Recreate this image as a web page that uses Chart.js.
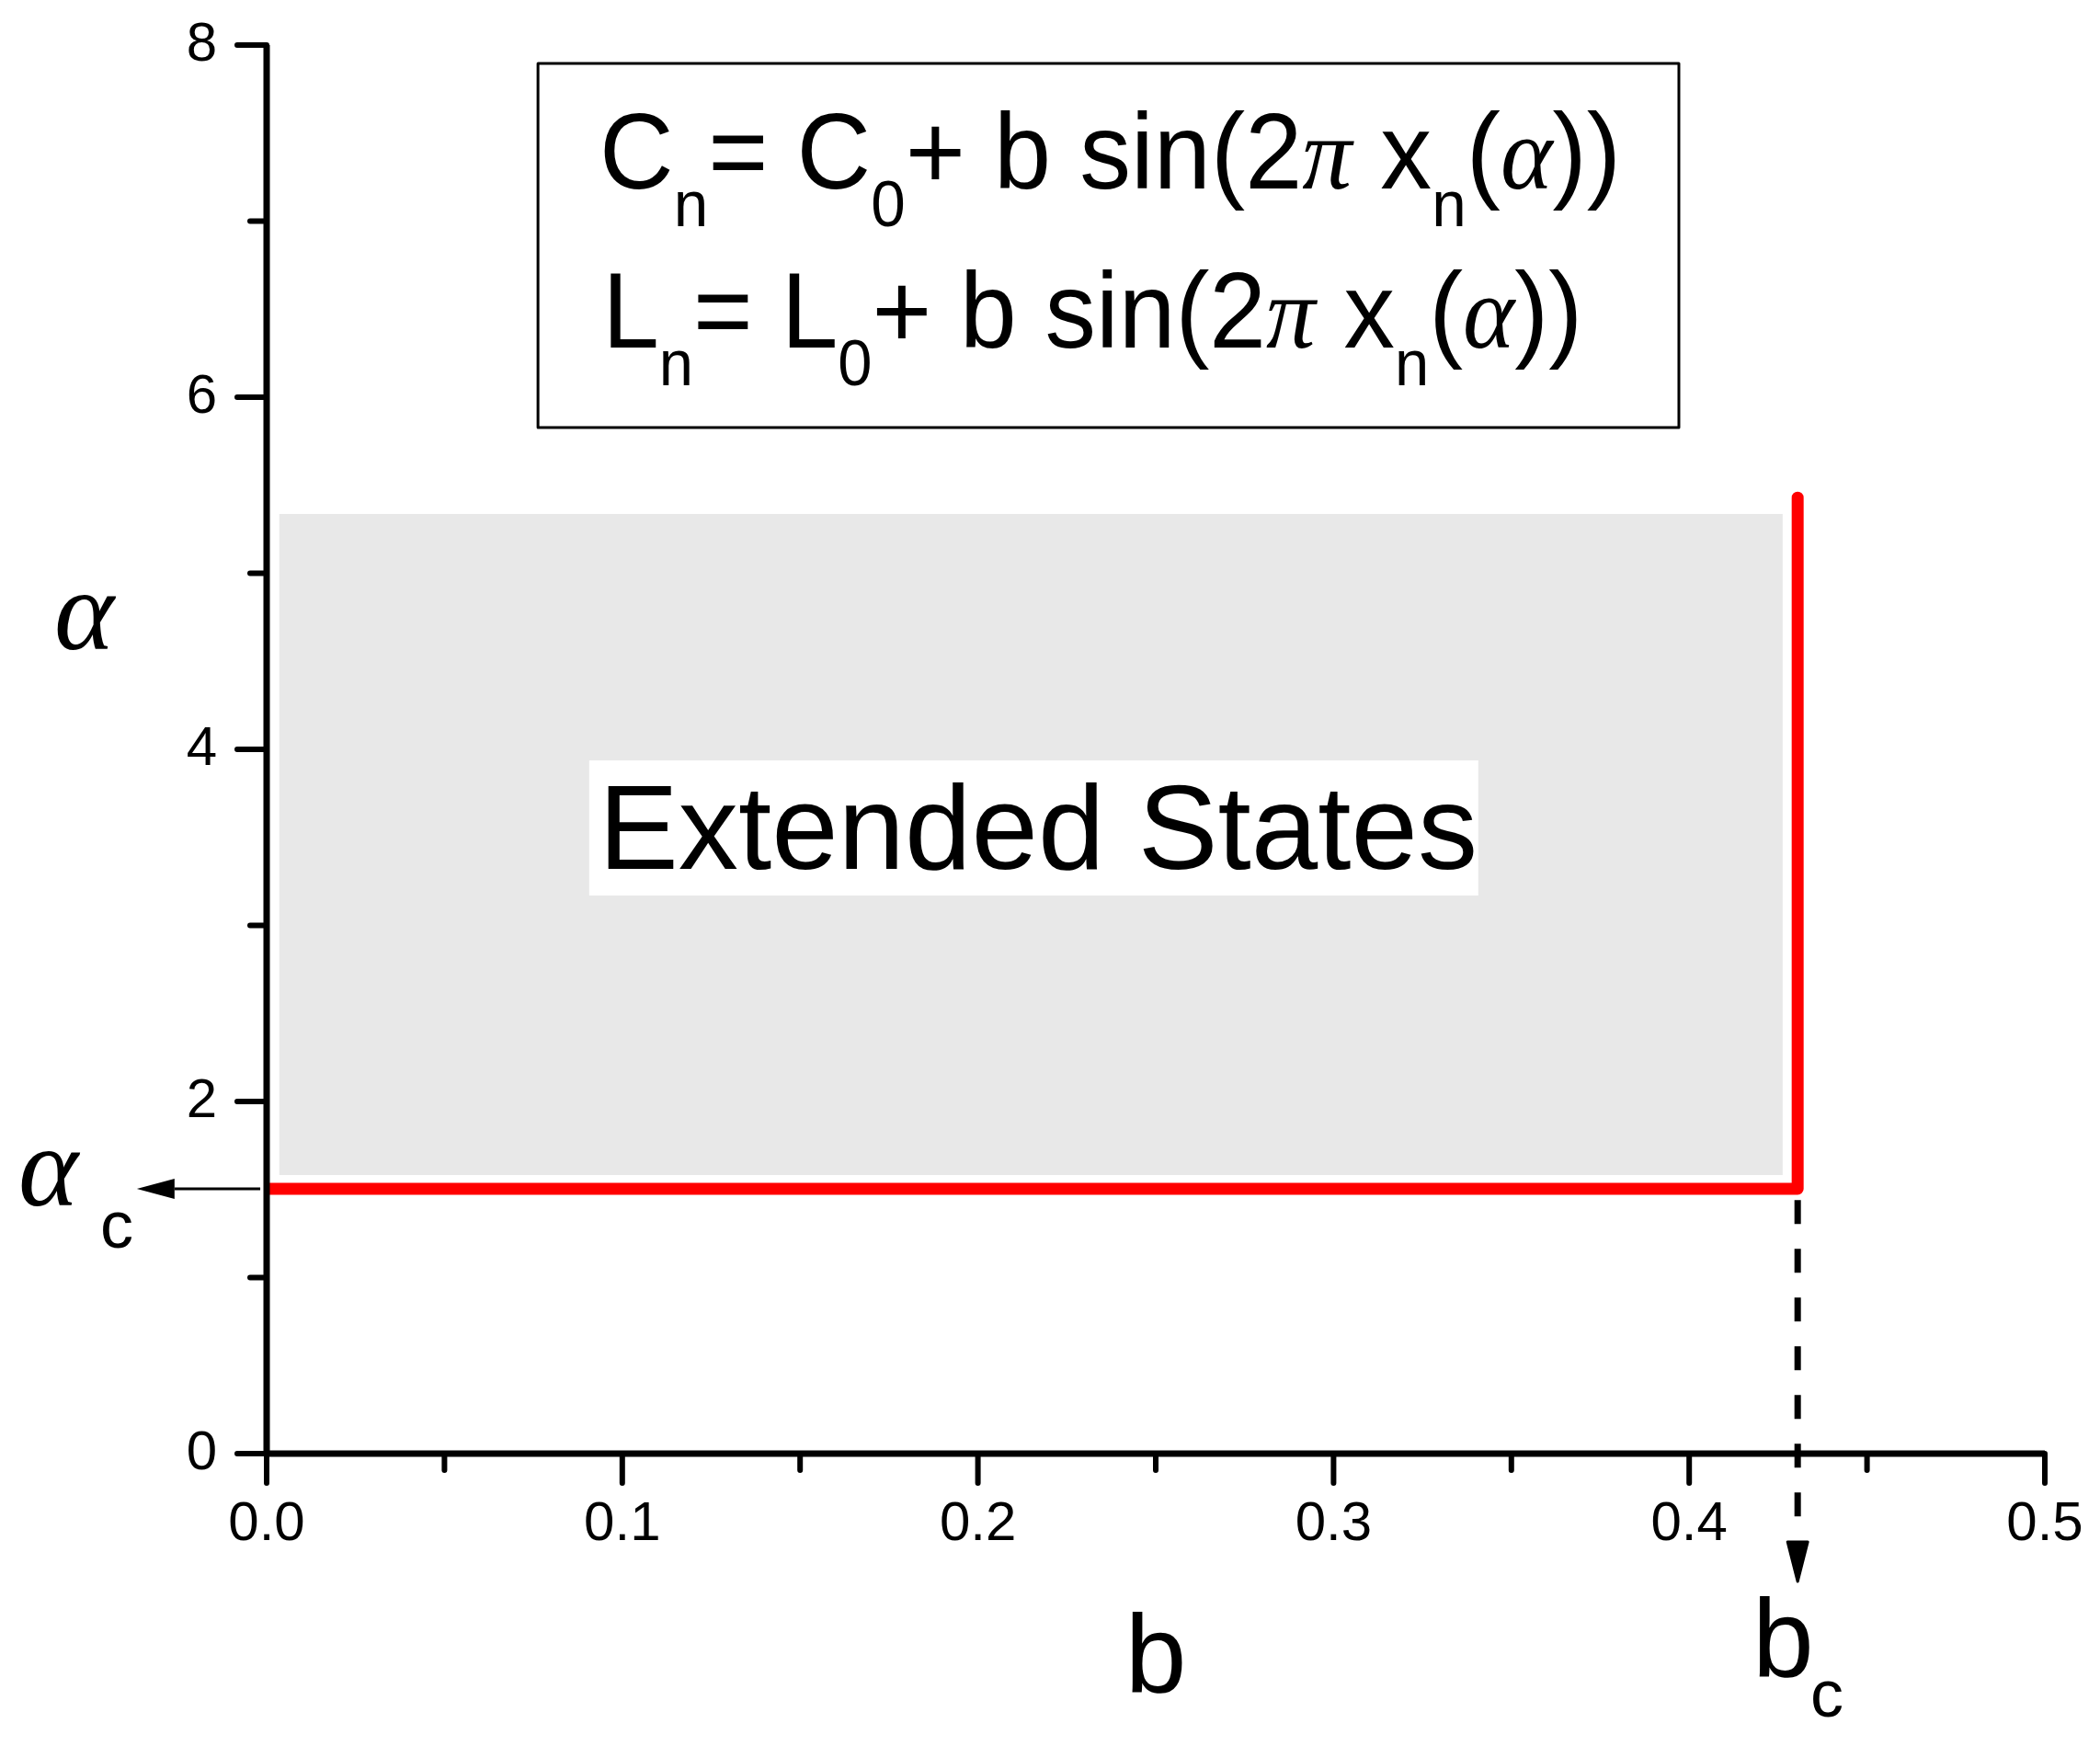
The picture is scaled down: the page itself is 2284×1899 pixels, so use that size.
<!DOCTYPE html>
<html>
<head>
<meta charset="utf-8">
<title>Extended states phase diagram</title>
<script src="https://cdn.jsdelivr.net/npm/chart.js@4.4.0/dist/chart.umd.min.js"></script>
<style>
    html, body { margin: 0; padding: 0; background: #ffffff; }
    #wrap { width: 2284px; height: 1899px; }
</style>
</head>
<body>
<div id="wrap"><canvas id="phaseChart" width="2284" height="1899"></canvas></div>
<script>
// Axis ticks
const xMajorTicks = [0, 0.1, 0.2, 0.3, 0.4, 0.5];
const xMinorTicks = [0.05, 0.15, 0.25, 0.35, 0.45];
const yMajorTicks = [0, 2, 4, 6, 8];
const yMinorTicks = [1, 3, 5, 7];

// Critical values
const bCritical = 0.4305;
const alphaCritical = 1.504;

// Red phase boundary (b, alpha)
const boundaryB = [0, 0.4305, 0.4305];
const boundaryAlpha = [1.504, 1.504, 5.43];

// Shaded "extended states" region
const regionB = [0.0035, 0.4263];
const regionBottom = [1.582, 1.582];
const regionTop = [5.337, 5.337];

// Dashed drop line from the corner down to b_c
const dropB = [0.4305, 0.4305];
const dropAlpha = [1.44, -0.366];

const COLORS = {
    axis: '#000000',
    boundary: '#ff0000',
    region: '#e8e8e8',
    text: '#000000'
};

const SANS = 'Arial, "Liberation Sans", sans-serif';
const SERIF = '"Liberation Serif", "DejaVu Serif", serif';

const toPoints = (xs, ys) => xs.map((x, i) => ({ x: x, y: ys[i] }));

// draws a run of text pieces (main / subscript / greek) squeezed to a given width
function drawRich(ctx, parts, x, y, width) {
    let total = 0;
    parts.forEach(p => {
        ctx.font = p.font;
        p.w = ctx.measureText(p.t).width;
        total += p.w;
    });
    ctx.save();
    ctx.translate(x, y);
    ctx.scale(width ? width / total : 1, 1);
    let cx = 0;
    parts.forEach(p => {
        ctx.font = p.font;
        ctx.fillText(p.t, cx, p.dy || 0);
        cx += p.w;
    });
    ctx.restore();
}

const MAIN = '116px ' + SANS;
const SUB = '70px ' + SANS;
const GREEK = 'italic 112px ' + SERIF;

const line1 = [
    { t: 'C', font: MAIN }, { t: 'n', font: SUB, dy: 41 },
    { t: '= C', font: MAIN }, { t: '0', font: SUB, dy: 41 },
    { t: '+ b sin(2', font: MAIN }, { t: '\u03C0', font: GREEK },
    { t: ' x', font: MAIN }, { t: 'n', font: SUB, dy: 41 },
    { t: '(', font: MAIN }, { t: '\u03B1', font: GREEK }, { t: '))', font: MAIN }
];
const line2 = [
    { t: 'L', font: MAIN }, { t: 'n', font: SUB, dy: 41 },
    { t: '= L', font: MAIN }, { t: '0', font: SUB, dy: 41 },
    { t: '+ b sin(2', font: MAIN }, { t: '\u03C0', font: GREEK },
    { t: ' x', font: MAIN }, { t: 'n', font: SUB, dy: 41 },
    { t: '(', font: MAIN }, { t: '\u03B1', font: GREEK }, { t: '))', font: MAIN }
];

const annotationPlugin = {
    id: 'phaseAnnotations',
    afterDatasetsDraw(chart) {
        const ctx = chart.ctx;
        const sx = chart.scales.x;
        const sy = chart.scales.y;
        const X = v => sx.getPixelForValue(v);
        const Y = v => sy.getPixelForValue(v);
        const x0 = X(0), y0 = Y(0);

        ctx.save();
        ctx.strokeStyle = COLORS.axis;
        ctx.fillStyle = COLORS.text;

        // axis lines
        ctx.lineWidth = 7;
        ctx.lineCap = 'butt';
        ctx.beginPath();
        ctx.moveTo(x0, Y(8));
        ctx.lineTo(x0, y0);
        ctx.moveTo(x0, y0);
        ctx.lineTo(X(0.5), y0);
        ctx.stroke();

        // tick marks (outward)
        ctx.lineWidth = 6;
        ctx.lineCap = 'round';
        ctx.beginPath();
        yMajorTicks.forEach(v => { ctx.moveTo(x0 - 32, Y(v)); ctx.lineTo(x0, Y(v)); });
        yMinorTicks.forEach(v => { ctx.moveTo(x0 - 18, Y(v)); ctx.lineTo(x0, Y(v)); });
        xMajorTicks.forEach(v => { ctx.moveTo(X(v), y0); ctx.lineTo(X(v), y0 + 32); });
        xMinorTicks.forEach(v => { ctx.moveTo(X(v), y0); ctx.lineTo(X(v), y0 + 18); });
        ctx.stroke();

        // arrow from the axis to alpha_c
        const ya = Y(alphaCritical);
        ctx.lineWidth = 3;
        ctx.lineCap = 'butt';
        ctx.beginPath();
        ctx.moveTo(X(-0.0018), ya);
        ctx.lineTo(X(-0.0259), ya);
        ctx.stroke();
        ctx.beginPath();
        ctx.moveTo(X(-0.0365), ya);
        ctx.lineTo(X(-0.0259), ya - 11);
        ctx.lineTo(X(-0.0259), ya + 11);
        ctx.closePath();
        ctx.fill();

        // arrow head of the dashed drop line
        const xb = X(bCritical);
        ctx.lineJoin = 'round';
        ctx.lineWidth = 3;
        ctx.beginPath();
        ctx.moveTo(xb - 11, Y(-0.501));
        ctx.lineTo(xb + 11, Y(-0.501));
        ctx.lineTo(xb, Y(-0.726));
        ctx.closePath();
        ctx.fill();
        ctx.stroke();

        // formula box
        ctx.lineWidth = 3;
        ctx.strokeRect(X(0.0763), Y(7.896), X(0.3971) - X(0.0763), Y(5.828) - Y(7.896));
        ctx.textAlign = 'left';
        ctx.textBaseline = 'alphabetic';
        drawRich(ctx, line1, X(0.0936), Y(7.185), X(0.2872) - X(0));
        drawRich(ctx, line2, X(0.0944), Y(6.282), X(0.2756) - X(0));

        // "Extended States" label on white
        ctx.fillStyle = '#ffffff';
        ctx.fillRect(X(0.0907), Y(3.937), X(0.3407) - X(0.0907), Y(3.170) - Y(3.937));
        ctx.fillStyle = COLORS.text;
        const labelW = X(0.2472) - X(0);
        drawRich(ctx, [{ t: 'Extended States', font: '130px ' + SANS }], X(0.2169) - labelW / 2, Y(3.321), labelW);

        // axis titles
        ctx.font = '120px ' + SANS;
        ctx.textAlign = 'center';
        ctx.fillText('b', X(0.25), Y(-1.352));
        ctx.textAlign = 'left';
        ctx.font = 'italic 124px ' + SERIF;
        ctx.fillText('\u03B1', X(-0.0597), Y(4.569));

        // critical labels
        ctx.font = 'italic 124px ' + SERIF;
        ctx.fillText('\u03B1', X(-0.0698), Y(1.41));
        ctx.font = '72px ' + SANS;
        ctx.fillText('c', X(-0.0468), Y(1.170));

        ctx.font = '120px ' + SANS;
        ctx.fillText('b', X(0.4178), Y(-1.264));
        ctx.font = '72px ' + SANS;
        ctx.fillText('c', X(0.4341), Y(-1.493));

        ctx.restore();
    }
};

const ctx = document.getElementById('phaseChart').getContext('2d');
const chart = new Chart(ctx, {
    type: 'scatter',
    data: {
        datasets: [
            {
                label: 'boundary',
                data: toPoints(boundaryB, boundaryAlpha),
                showLine: true,
                borderColor: COLORS.boundary,
                borderWidth: 13,
                borderCapStyle: 'round',
                borderJoinStyle: 'round',
                pointRadius: 0,
                fill: false,
                order: 1
            },
            {
                label: 'drop',
                data: toPoints(dropB, dropAlpha),
                showLine: true,
                borderColor: COLORS.axis,
                borderWidth: 7,
                borderDash: [26, 27],
                pointRadius: 0,
                fill: false,
                clip: false,
                order: 2
            },
            {
                label: 'regionTop',
                data: toPoints(regionB, regionTop),
                showLine: true,
                borderWidth: 0,
                borderColor: 'rgba(0,0,0,0)',
                backgroundColor: COLORS.region,
                pointRadius: 0,
                fill: '+1',
                order: 3
            },
            {
                label: 'regionBottom',
                data: toPoints(regionB, regionBottom),
                showLine: true,
                borderWidth: 0,
                borderColor: 'rgba(0,0,0,0)',
                pointRadius: 0,
                fill: false,
                order: 4
            }
        ]
    },
    options: {
        responsive: false,
        animation: false,
        devicePixelRatio: 1,
        layout: { padding: { top: 49, right: 60, left: 0, bottom: 0 } },
        plugins: {
            legend: { display: false },
            tooltip: { enabled: false }
        },
        scales: {
            x: {
                type: 'linear',
                min: 0,
                max: 0.5,
                grid: { display: false, drawTicks: false },
                border: { display: false },
                ticks: {
                    stepSize: 0.1,
                    padding: 41,
                    color: COLORS.text,
                    font: { size: 60, family: SANS },
                    callback: v => v.toFixed(1)
                },
                afterFit: scale => {
                    scale.height = 318;
                    scale.paddingLeft = 0;
                    scale.paddingRight = 0;
                }
            },
            y: {
                type: 'linear',
                min: 0,
                max: 8,
                grid: { display: false, drawTicks: false },
                border: { display: false },
                ticks: {
                    stepSize: 2,
                    padding: 54,
                    color: COLORS.text,
                    font: { size: 60, family: SANS },
                    callback: v => String(v)
                },
                afterFit: scale => {
                    scale.width = 290;
                    scale.paddingTop = 0;
                    scale.paddingBottom = 0;
                }
            }
        }
    },
    plugins: [annotationPlugin]
});
</script>
</body>
</html>
